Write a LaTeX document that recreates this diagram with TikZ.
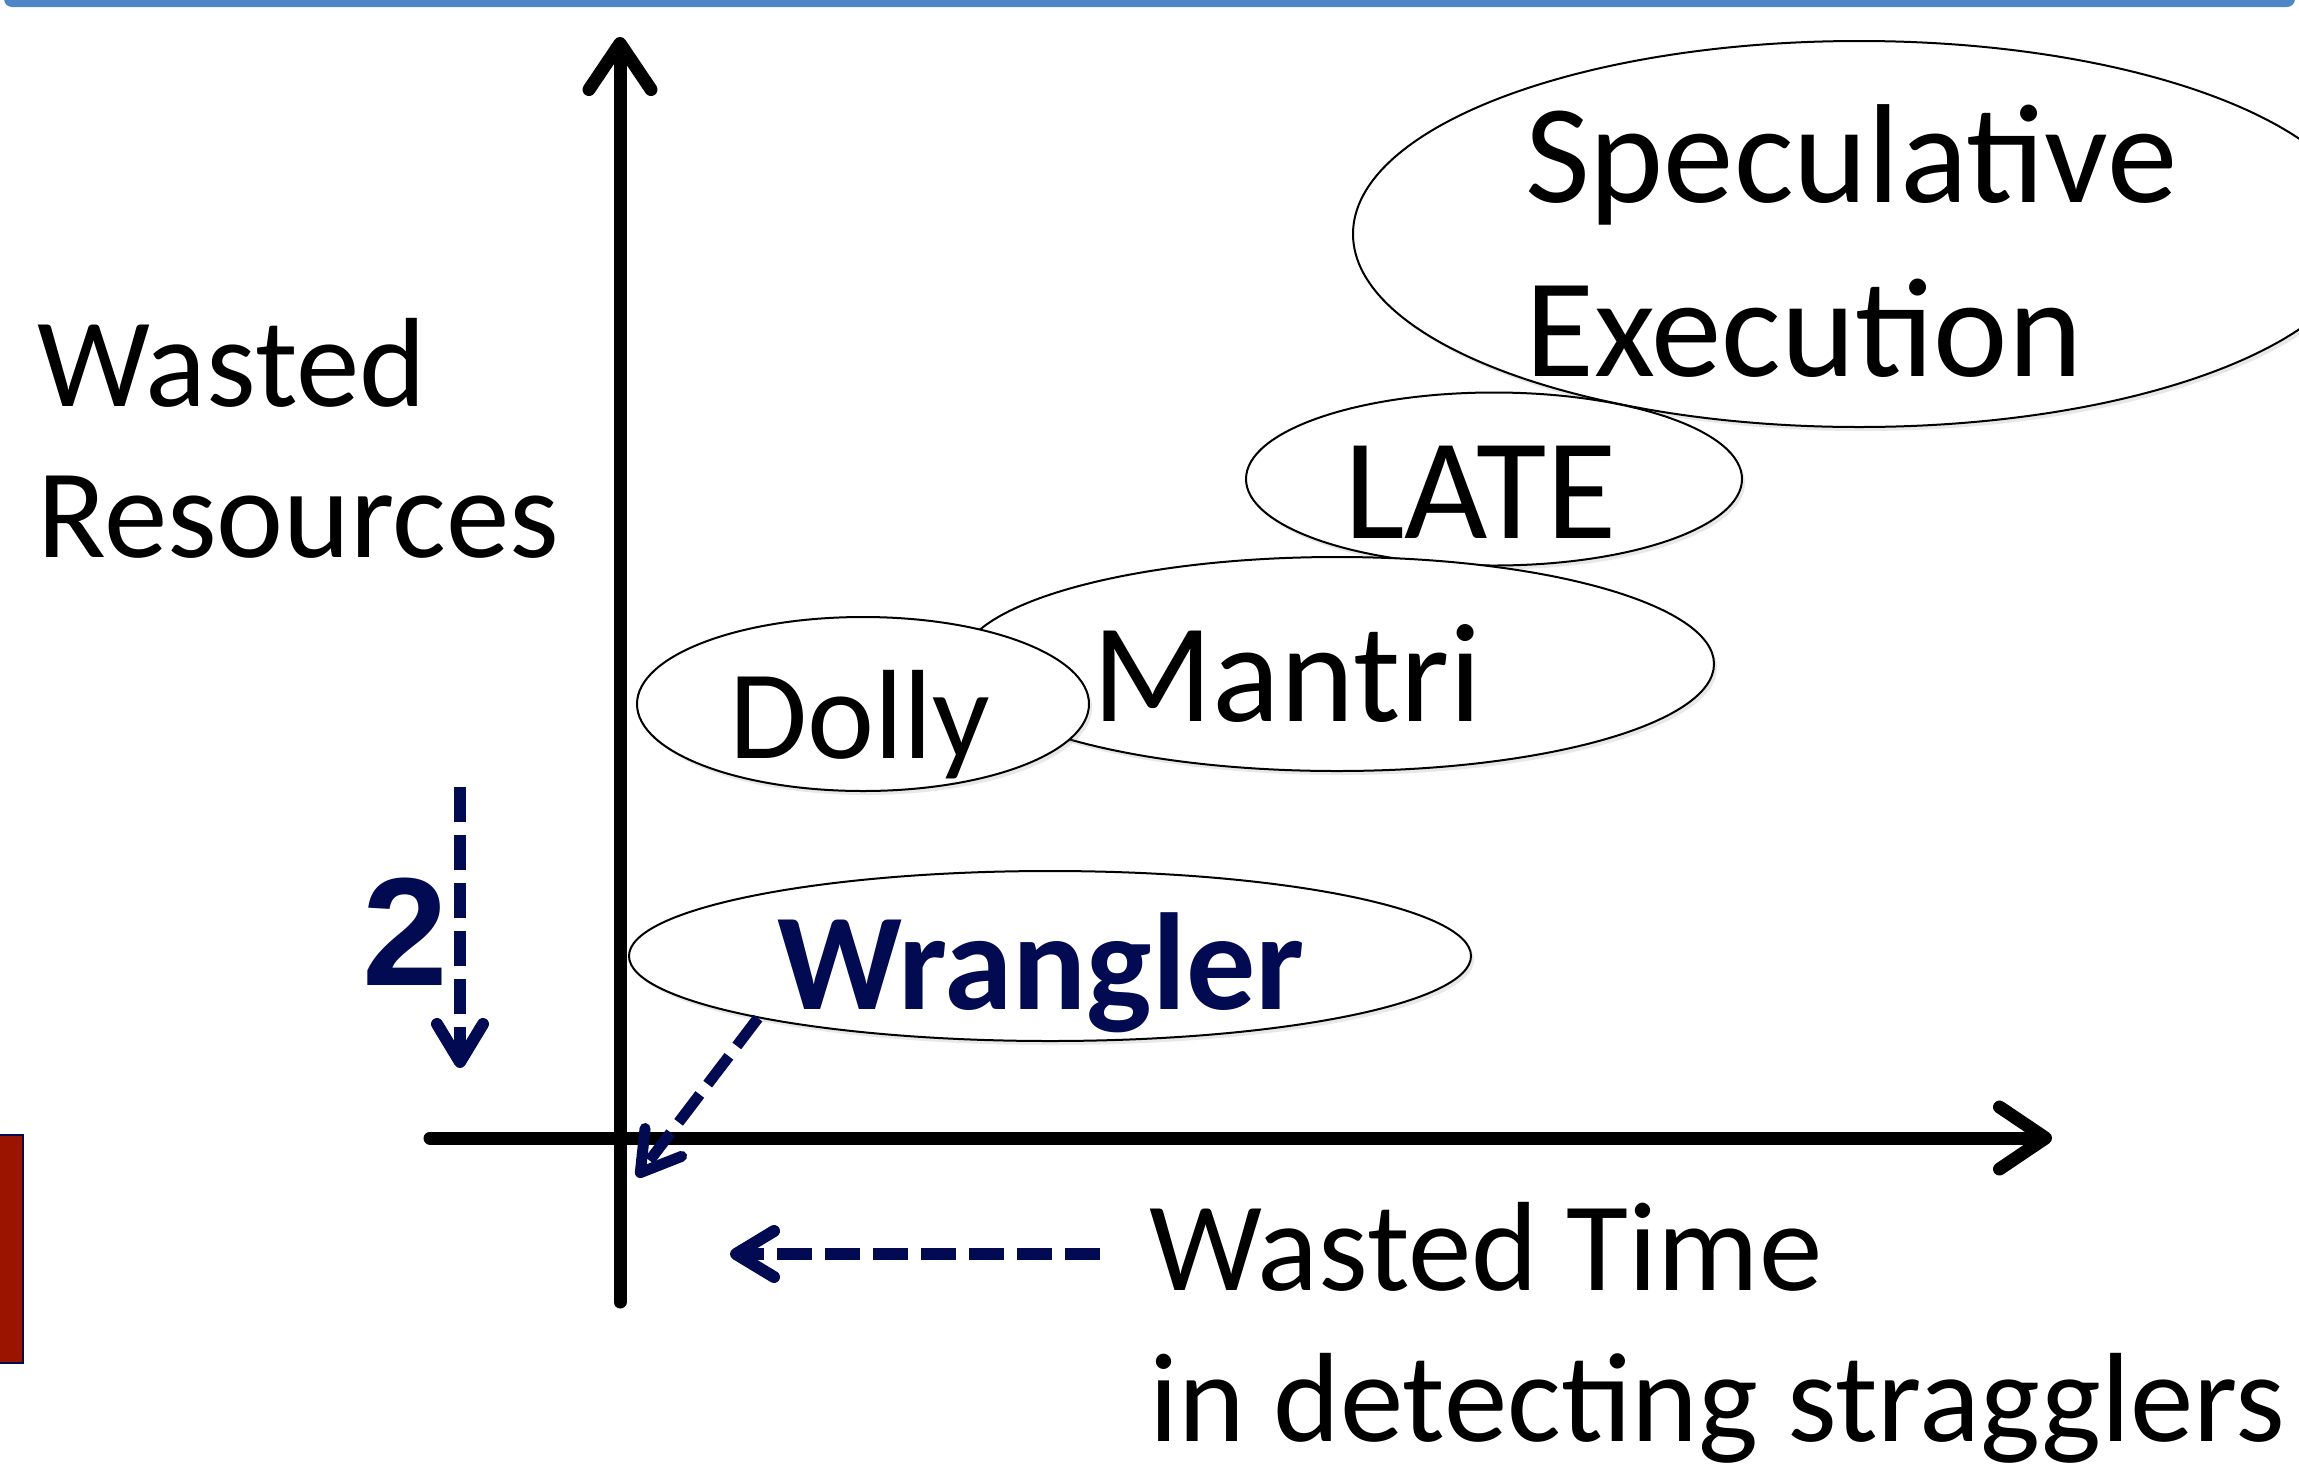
\documentclass[tikz,border=0pt]{standalone}
\usepackage{fontspec}
\setmainfont{Carlito}
\newfontfamily\digitfont{Liberation Sans}
\usetikzlibrary{arrows.meta,shapes.geometric,shadows}
\definecolor{navy}{RGB}{2,10,82}
\definecolor{barblue}{RGB}{79,134,198}
\definecolor{boxred}{RGB}{155,20,0}

\begin{document}
\begin{tikzpicture}[x=1pt,y=-1pt,
  oval/.style={ellipse, draw=black, line width=2pt, fill=white, inner sep=0pt,
    drop shadow={opacity=0.18, shadow xshift=3pt, shadow yshift=-4pt}},
  axisline/.style={line width=13pt, line cap=round,
    -{Straight Barb[length=46pt,width=62pt,round]}},
  navyarrow/.style={draw=navy, line width=12pt, dash pattern=on 35pt off 13pt,
    -{Straight Barb[length=38pt,width=46pt,round]}},
  lbl/.style={inner sep=0pt, align=left, anchor=base west},
]
\useasboundingbox (0,0) rectangle (2299,1468);
\clip (0,0) rectangle (2299,1468);

% header bar and side box
\fill[barblue, rounded corners=8pt] (4,-20) rectangle (2295,7);
\filldraw[fill=boxred, draw=navy, line width=2pt] (-10,1135) rectangle (23,1363);

% ovals, back to front
\node[oval, minimum width=1012pt, minimum height=386pt] (spec)   at (1859,234) {};
\node[oval, minimum width=496pt,  minimum height=173pt] (late)   at (1494,479) {};
\node[oval, minimum width=754pt,  minimum height=214pt] (mantri) at (1337,664) {};
\node[oval, minimum width=452pt,  minimum height=174pt] (dolly)  at (863,704) {};
\node[oval, minimum width=842pt,  minimum height=170pt] (wr)     at (1050,956) {};

% axes
\coordinate (ybot) at (620,1302);
\coordinate (ytop) at (620,37);
\coordinate (xleft) at (430,1138);
\coordinate (xright) at (2052,1138);
\draw[axisline] (ybot) -- (ytop);
\draw[axisline] (xleft) -- (xright);

% labels inside the ovals (base anchor = baseline of the last line)
\node[lbl, font=\fontsize{141}{174}\selectfont] (spectext) at (1525,376) {Speculative\\Execution};
\node[lbl, font=\fontsize{144}{170}\selectfont] (latetext) at (1344,538) {LATE};
\node[lbl, font=\fontsize{141}{170}\selectfont] (mantritext) at (1092,721) {Mantri};
\node[lbl, font=\fontsize{127}{150}\selectfont] (dollytext) at (729,758) {Dolly};
\node[lbl, font=\fontsize{138}{165}\selectfont\bfseries, text=navy] (wrtext) at (777,1009) {Wrangler};

% axis labels
\node[lbl, font=\fontsize{127}{151}\selectfont] (ylabel) at (37,557) {Wasted\\Resources};
\node[lbl, font=\fontsize{127}{151}\selectfont] (xlabel) at (1149,1441) {Wasted Time\\in detecting stragglers};

% step marker and navy arrows
\node[inner sep=0pt, anchor=base, text=navy, font=\digitfont\fontsize{154}{160}\selectfont\bfseries] (two) at (405,985) {2};
\coordinate (twotop) at (460,787);
\coordinate (twotip) at (460,1068);
\draw[navyarrow] (twotop) -- (twotip);

\coordinate (wtip) at (637,1177);
\draw[navyarrow, line width=11pt] (wr.192) -- (wtip);

\coordinate (tstart) at (1100,1254);
\coordinate (ttip) at (730,1254);
\draw[navyarrow] (tstart) -- (ttip);
\end{tikzpicture}
\end{document}
